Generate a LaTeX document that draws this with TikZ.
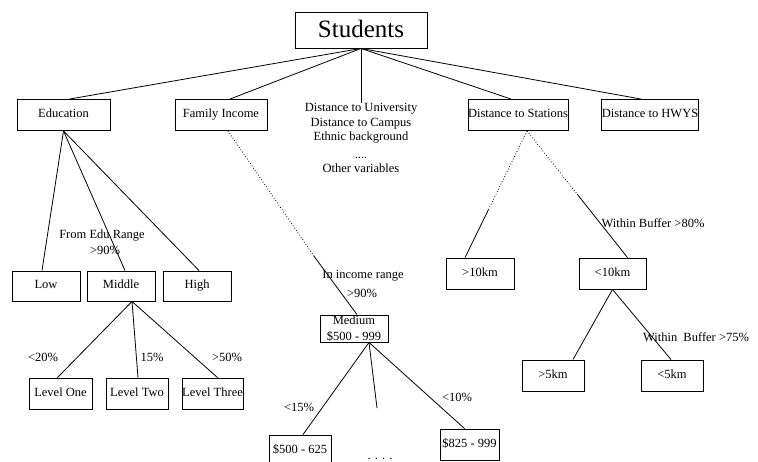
\documentclass[tikz,border=0pt]{standalone}
\usepackage{fontspec}
\setmainfont{Liberation Serif}
\usepackage{tikz}
\usetikzlibrary{calc}
\tikzset{
  block/.style={
    draw=black,
    line width=0.9pt,
    align=center,
    minimum height=31pt,
    inner sep=0pt,
    text height=9pt,
    text depth=3pt,
    font=\fontsize{12.5}{14.5}\selectfont
  },
  lbl/.style={inner sep=0pt, align=center, font=\fontsize{12.5}{14.5}\selectfont},
  line/.style={line width=0.8pt},
  dline/.style={line width=0.8pt, dotted}
}

\begin{document}
\begin{tikzpicture}[x=1pt,y=-1pt]
        \useasboundingbox (0,0) rectangle (758,462);
        % root and first level
        \node[block, minimum width=132pt, minimum height=36pt, text height=17pt, text depth=1pt, font=\fontsize{25}{28}\selectfont] (stu) at (361,30) {Students};
        \node[block, minimum width=93pt] (edu) at (63.5,115) {Education};
        \node[block, minimum width=92pt] (inc) at (221,115) {Family Income};
        \node[lbl] (oth) at (361,138) {Distance to University\\Distance to Campus\\Ethnic background\\[3pt]....\\Other variables};
        \node[block, minimum width=94pt] (sta) at (518,115) {Distance to Stations};
        \node[block, minimum width=94pt] (hwy) at (650,115) {Distance to HWYS};
        % education branch
        \node[block, minimum width=68pt, minimum height=30pt] (low) at (46,286) {Low};
        \node[block, minimum width=68pt, minimum height=30pt] (mid) at (121,286) {Middle};
        \node[block, minimum width=68pt, minimum height=30pt] (high) at (197,286) {High};
        \node[block, minimum width=63pt] (lv1) at (60.5,393.5) {Level One};
        \node[block, minimum width=62pt] (lv2) at (137,393.5) {Level Two};
        \node[block, minimum width=61pt] (lv3) at (212.5,393.5) {Level Three};
        % income branch
        \node[block, minimum width=68pt, minimum height=27pt, text height=, text depth=, font=\fontsize{12.5}{15.5}\selectfont] (med) at (354,328.5) {Medium\\\$500 - 999};
        \node[block, minimum width=62pt] (lo) at (300,450.5) {\$500 - 625};
        \node[block, minimum width=59pt] (hi) at (469.5,444.5) {\$825 - 999};
        % stations branch
        \node[block, minimum width=68pt] (far) at (480,273.5) {>10km};
        \node[block, minimum width=67pt] (near) at (612.5,273.5) {<10km};
        \node[block, minimum width=62pt] (n5) at (553,375.5) {>5km};
        \node[block, minimum width=62pt] (n4) at (672,375.5) {<5km};
        % labels
        \node[lbl] (eduL) at (102,236) {From Edu Range};
        \node[lbl] (eduP) at (105,250) {>90\%};
        \node[lbl] (p1) at (43,357) {<20\%};
        \node[lbl] (p2) at (152,357) {15\%};
        \node[lbl] (p3) at (227,357) {>50\%};
        \node[lbl] (incL) at (363,276) {In income range};
        \node[lbl] (incP) at (362,293) {>90\%};
        \node[lbl] (q1) at (299,407) {<15\%};
        \node[lbl] (q2) at (457,397) {<10\%};
        \node[lbl] (dots) at (380,459) {. . . .};
        \node[lbl] (buf1) at (653,223) {Within Buffer >80\%};
        \node[lbl] (buf2) at (696,337) {Within\ \ Buffer >75\%};
        % helper points
        \coordinate (inc1) at ($([xshift=7pt]inc.south)!0.68!(med.north)$);
        \coordinate (sta1) at ($([xshift=9pt]sta.south)!0.62!([xshift=-15pt]far.north)$);
        \coordinate (sta2) at ($([xshift=9pt]sta.south)!0.5!([xshift=15pt]near.north)$);
        \coordinate (medx) at (377,408);
        % connectors
        \draw[line] (stu.south) -- ([xshift=6pt]edu.north);
        \draw[line] (stu.south) -- ([xshift=9pt]inc.north);
        \draw[line] (stu.south) -- (oth.north);
        \draw[line] (stu.south) -- ([xshift=-7pt]sta.north);
        \draw[line] (stu.south) -- ([xshift=-9pt]hwy.north);
        \draw[line] (edu.south) -- ([xshift=-4pt]low.north);
        \draw[line] (edu.south) -- ([xshift=4pt]mid.north);
        \draw[line] (edu.south) -- ([xshift=2pt]high.north);
        \draw[line] ([xshift=11pt]mid.south) -- ([xshift=-3pt]lv1.north);
        \draw[line] ([xshift=11pt]mid.south) -- ([xshift=1pt]lv2.north);
        \draw[line] ([xshift=11pt]mid.south) -- ([xshift=5pt]lv3.north);
        \draw[dline] ([xshift=7pt]inc.south) -- (inc1);
        \draw[line] (inc1) -- ([xshift=3pt]med.north);
        \draw[line] ([xshift=15pt]med.south) -- ([xshift=3pt]lo.north);
        \draw[line] ([xshift=15pt]med.south) -- (medx);
        \draw[line] ([xshift=15pt]med.south) -- ([xshift=-5pt]hi.north);
        \draw[dline] ([xshift=9pt]sta.south) -- (sta1);
        \draw[line] (sta1) -- ([xshift=-15pt]far.north);
        \draw[dline] ([xshift=9pt]sta.south) -- (sta2);
        \draw[line] (sta2) -- ([xshift=15pt]near.north);
        \draw[line] (near.south) -- ([xshift=20pt]n5.north);
        \draw[line] (near.south) -- ([xshift=-1pt]n4.north);
      \end{tikzpicture}
\end{document}
